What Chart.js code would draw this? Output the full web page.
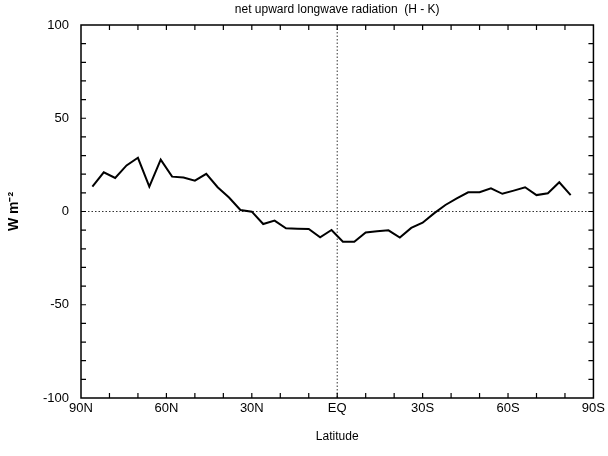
<!DOCTYPE html>
<html>
<head>
<meta charset="utf-8">
<script src="https://cdn.jsdelivr.net/npm/chart.js@4"></script>
<style>
  html, body { margin: 0; padding: 0; background: #fff; }
  #wrap { width: 608px; height: 456px; }
</style>
</head>
<body>
<div id="wrap"><canvas id="lwChart" width="608" height="456"></canvas></div>
<script>
// latitude of each point (N positive, S negative)
const latitudes = [86, 82, 78, 74, 70, 66, 62, 58, 54, 50, 46, 42, 38, 34, 30, 26, 22, 18, 14, 10, 6, 2,
    -2, -6, -10, -14, -18, -22, -26, -30, -34, -38, -42, -46, -50, -54, -58, -62, -66, -70, -74, -78, -82];

// net upward longwave radiation difference H - K, W m-2
const netLW = [13.3, 21, 18, 24.7, 28.8, 13.3, 27.8, 18.7, 18.2, 16.5, 20.2, 13, 7.5, 0.8, -0.1, -6.7, -4.9, -9, -9.2, -9.4, -13.8, -9.9,
    -16.2, -16.2, -11.2, -10.6, -10.1, -14, -8.8, -6, -1, 3.5, 7, 10.3, 10.3, 12.4, 9.5, 11.2, 13, 8.8, 9.8, 15.7, 8.8];

const xTickValues = [90, 60, 30, 0, -30, -60, -90];
const xTickLabels = ['90N', '60N', '30N', 'EQ', '30S', '60S', '90S'];
const yTickValues = [100, 50, 0, -50, -100];


const fontFamily = '"Liberation Sans", Arial, Helvetica, sans-serif';


//Frame, inward ticks and the dotted zero lines.
const framePlugin = {
    id: 'frame',
    beforeDatasetsDraw(chart) {
        const {ctx, chartArea: a, scales: {x, y}} = chart;
        ctx.save();
        ctx.strokeStyle = '#333';
        ctx.lineWidth = 1;
        ctx.setLineDash([1.5, 2]);
        const y0 = y.getPixelForValue(0);
        const x0 = x.getPixelForValue(0);
        ctx.beginPath();
        ctx.moveTo(a.left, y0);
        ctx.lineTo(a.right, y0);
        ctx.moveTo(x0, a.top);
        ctx.lineTo(x0, a.bottom);
        ctx.stroke();
        ctx.restore();
    },
    afterDatasetsDraw(chart) {
        const {ctx, chartArea: a, scales: {x, y}} = chart;
        const len = 5;
        ctx.save();
        ctx.strokeStyle = '#000';
        ctx.lineWidth = 1.5;
        ctx.strokeRect(a.left, a.top, a.right - a.left, a.bottom - a.top);
        ctx.lineWidth = 1.2;
        ctx.beginPath();
        for (let v = y.min + 10; v < y.max; v += 10) {
            const p = y.getPixelForValue(v);
            ctx.moveTo(a.left, p); ctx.lineTo(a.left + len, p);
            ctx.moveTo(a.right, p); ctx.lineTo(a.right - len, p);
        }
        for (let v = x.min + 10; v < x.max; v += 10) {
            const p = x.getPixelForValue(v);
            ctx.moveTo(p, a.bottom); ctx.lineTo(p, a.bottom - len);
            ctx.moveTo(p, a.top); ctx.lineTo(p, a.top + len);
        }
        ctx.stroke();
        ctx.restore();
    }
};


const ctx = document.getElementById('lwChart').getContext('2d');
const chart = new Chart(ctx, {
    type: 'line',
    data: {
        datasets: [{
            data: latitudes.map((lat, i) => ({x: lat, y: netLW[i]})),
            borderColor: '#000',
            borderWidth: 2,
            pointRadius: 0,
            tension: 0,
            fill: false
        }]
    },
    options: {
        responsive: false,
        animation: false,
        layout: { padding: { top: 0, right: 11, bottom: 0, left: 0 } },
        plugins: {
            legend: { display: false },
            tooltip: { enabled: false },
            title: {
                display: true,
                fullSize: false,
                text: 'net upward longwave radiation  (H - K)',
                color: '#000',
                font: { family: fontFamily, size: 12, weight: 'normal' },
                padding: { top: 2, bottom: 8.6 }
            }
        },
        scales: {
            x: {
                type: 'linear',
                reverse: true,
                min: -90,
                max: 90,
                afterBuildTicks: axis => { axis.ticks = xTickValues.map(v => ({value: v})); },
                afterFit: axis => { axis.height = 58; },
                grid: { display: false, drawTicks: false },
                border: { display: false },
                ticks: {
                    color: '#000',
                    padding: 3,
                    maxRotation: 0,
                    autoSkip: false,
                    font: { family: fontFamily, size: 13 },
                    callback: v => xTickLabels[xTickValues.indexOf(v)]
                },
                title: {
                    display: true,
                    text: 'Latitude',
                    color: '#000',
                    font: { family: fontFamily, size: 12 },
                    padding: { top: 0, bottom: 12 }
                }
            },
            y: {
                min: -100,
                max: 100,
                afterBuildTicks: axis => { axis.ticks = yTickValues.map(v => ({value: v})); },
                afterFit: axis => { axis.width = 81; },
                grid: { display: false, drawTicks: false },
                border: { display: false },
                ticks: {
                    color: '#000',
                    padding: 12,
                    font: { family: fontFamily, size: 13 }
                },
                title: {
                    display: true,
                    text: 'W m\u207B\u00B2',
                    color: '#000',
                    font: { family: fontFamily, size: 14, weight: 'bold' },
                    padding: { top: 6, bottom: 0 }
                }
            }
        }
    },
    plugins: [framePlugin]
});
</script>
</body>
</html>
